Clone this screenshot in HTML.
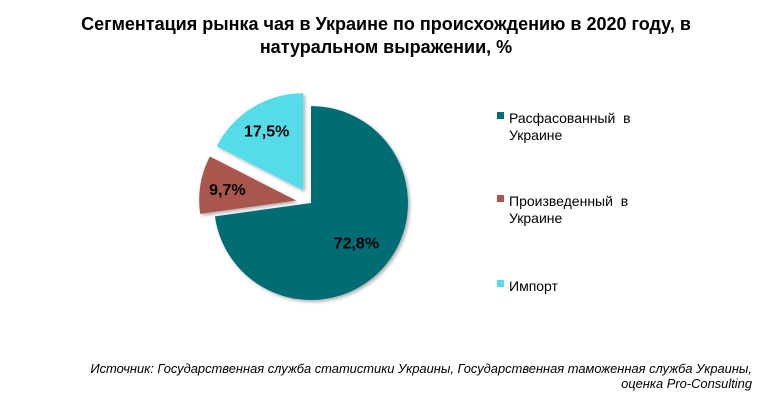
<!DOCTYPE html>
<html><head><meta charset="utf-8"><style>
body{margin:0;background:#fff;width:775px;height:400px;overflow:hidden;font-family:"Liberation Sans",sans-serif}
</style></head><body>
<svg width="775" height="400">
<defs><filter id="sh" x="-20%" y="-20%" width="140%" height="140%"><feDropShadow dx="2" dy="2" stdDeviation="1.5" flood-color="#000" flood-opacity="0.3"/></filter></defs>
<text x="386" y="30" text-anchor="middle" font-size="18" font-weight="bold">Сегментация рынка чая в Украине по происхождению в 2020 году, в</text>
<text x="386" y="53" text-anchor="middle" font-size="18" font-weight="bold">натуральном выражении, %</text>
<g id="pie"></g>
<g id="legend"></g>
<text x="752" y="373" text-anchor="end" font-size="12.9" font-style="italic">Источник: Государственная служба статистики Украины, Государственная таможенная служба Украины,</text>
<text x="752" y="388" text-anchor="end" font-size="12.9" font-style="italic">оценка Pro-Consulting</text>
</svg>
<script>
const categories=["Расфасованный в Украине","Произведенный в Украине","Импорт"];
const legendLines=[["Расфасованный\u00a0\u00a0в","Украине"],["Произведенный\u00a0\u00a0в","Украине"],["Импорт"]];
const values=[72.8,9.7,17.5];
const labels=["72,8%","9,7%","17,5%"];
const colors=["#006D75","#A9574E","#55DCE8"];
const explode=[0,15,15];
const NS="http://www.w3.org/2000/svg";
const cx=311,cy=203,r=97;
const total=values.reduce((a,b)=>a+b,0);
const pie=document.getElementById('pie');
let acc=0;
values.forEach((v,i)=>{
  const a0=acc/total*2*Math.PI; acc+=v; const a1=acc/total*2*Math.PI;
  const am=(a0+a1)/2;
  const ox=cx+explode[i]*Math.sin(am), oy=cy-explode[i]*Math.cos(am);
  const x0=ox+r*Math.sin(a0), y0=oy-r*Math.cos(a0), x1=ox+r*Math.sin(a1), y1=oy-r*Math.cos(a1);
  const large=(a1-a0)>Math.PI?1:0;
  const p=document.createElementNS(NS,'path');
  p.setAttribute('d',`M${ox},${oy} L${x0},${y0} A${r},${r} 0 ${large} 1 ${x1},${y1} Z`);
  p.setAttribute('fill',colors[i]);
  p.setAttribute('filter','url(#sh)');
  
  
  pie.appendChild(p);
  const lr=i==0?0.62:0.72;
  const t=document.createElementNS(NS,'text');
  t.setAttribute('x',ox+r*lr*Math.sin(am));
  t.setAttribute('y',oy-r*lr*Math.cos(am)+6);
  t.setAttribute('text-anchor','middle');
  t.setAttribute('font-size','16');
  t.setAttribute('font-weight','bold');
  t.textContent=labels[i];
  
  
  pie.appendChild(t);
});
const lg=document.getElementById('legend');
const ly=[118,201,286];
categories.forEach((c,i)=>{
  const g=document.createElementNS(NS,'g');
  
  
  const s=document.createElementNS(NS,'rect');
  s.setAttribute('x',497);s.setAttribute('y',ly[i]-6);s.setAttribute('width',7);s.setAttribute('height',7);
  s.setAttribute('fill',colors[i]);
  
  
  g.appendChild(s);
  legendLines[i].forEach((ln,j)=>{
    const t=document.createElementNS(NS,'text');
    t.setAttribute('x',509);t.setAttribute('y',ly[i]+5+j*17);t.setAttribute('font-size','14');
    t.textContent=ln;
    
    
    g.appendChild(t);
  });
  lg.appendChild(g);
});
</script>
</body></html>
